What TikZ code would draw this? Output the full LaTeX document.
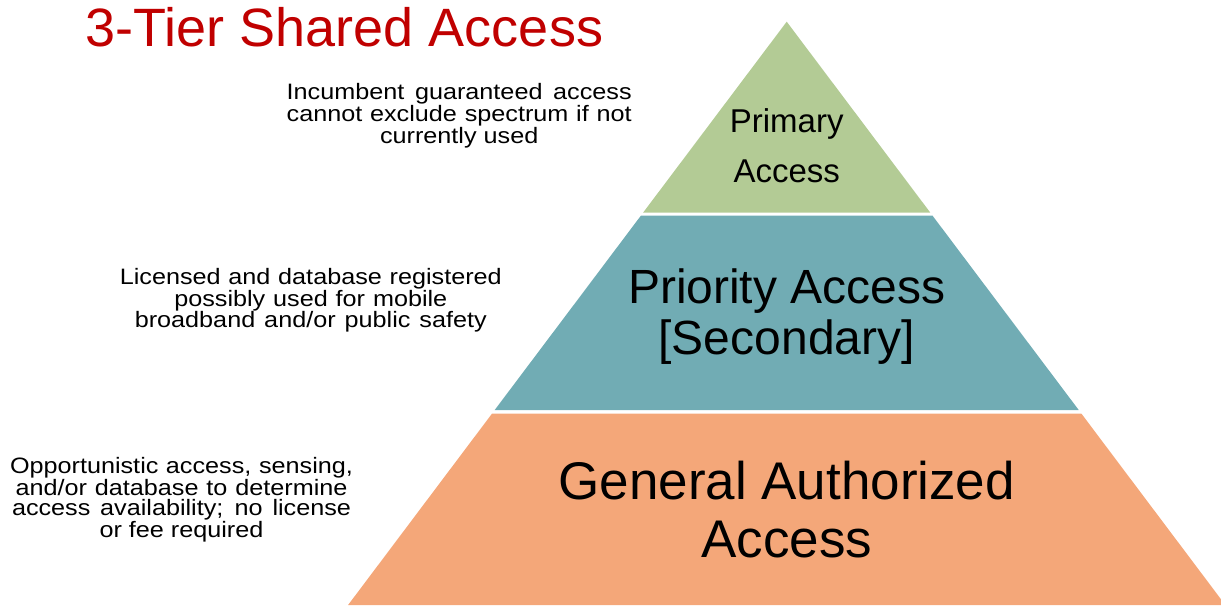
\documentclass[tikz,border=0pt]{standalone}
\usepackage{fontspec}
\setmainfont{Liberation Sans}
\newfontfamily\widesans{Liberation Sans}[FakeStretch=1.13]
\definecolor{tiergreen}{HTML}{B3CB95}
\definecolor{tierteal}{HTML}{71ACB4}
\definecolor{tierorange}{HTML}{F4A779}
\definecolor{titlered}{HTML}{C00000}
\newcommand{\jline}[2]{\makebox[#1pt][s]{#2}}
\begin{document}
\begin{tikzpicture}[x=1pt,y=-1pt,
  tierlabel/.style={anchor=north, inner sep=0pt, align=center, text=black},
  notetext/.style={anchor=north, inner sep=0pt, align=center, text=black,
    font=\widesans\fontsize{22.3}{20.6}\selectfont}]
\useasboundingbox (0,0) rectangle (1221,607);
\clip (0,0) rectangle (1221,607);
% pyramid tiers
\fill[tiergreen] (786.7,21.7) -- (930.2,212.5) -- (643.2,212.5) -- cycle;
\fill[tierteal] (641.0,215.5) -- (932.4,215.5) -- (1078.7,410) -- (494.7,410) -- cycle;
\fill[tierorange] (492.1,413.5) -- (1081.3,413.5) -- (1225.3,605) -- (348.1,605) -- cycle;
% title
\node[anchor=base, inner sep=0pt, text=titlered, font=\fontsize{54}{60}\selectfont]
  (title) at (344.5,47) {3-Tier Shared Access};
% tier labels
\node[tierlabel, font=\fontsize{33}{50}\selectfont] (primary) at (786.7,108.3) {Primary\\Access};
\node[tierlabel, font=\fontsize{48}{51}\selectfont] (priority) at (786.7,268.4) {Priority Access\\{[Secondary]}};
\node[tierlabel, font=\fontsize{53}{58}\selectfont] (general) at (786.7,460.6) {General Authorized\\Access};
% notes
\node[notetext] (noteprimary) at (459.2,83.3)
  {\jline{345}{Incumbent guaranteed access}\\\jline{345}{cannot exclude spectrum if not}\\currently used};
\node[notetext] (notepriority) at (310.8,268.0)
  {\jline{382}{Licensed and database registered}\\\jline{273}{possibly used for mobile}\\\jline{352}{broadband and/or public safety}};
\node[notetext] (notegeneral) at (181.5,457.0)
  {\jline{343}{Opportunistic access, sensing,}\\\jline{332}{and/or database to determine}\\\jline{339}{access availability; no license}\\or fee required};
\end{tikzpicture}
\end{document}
